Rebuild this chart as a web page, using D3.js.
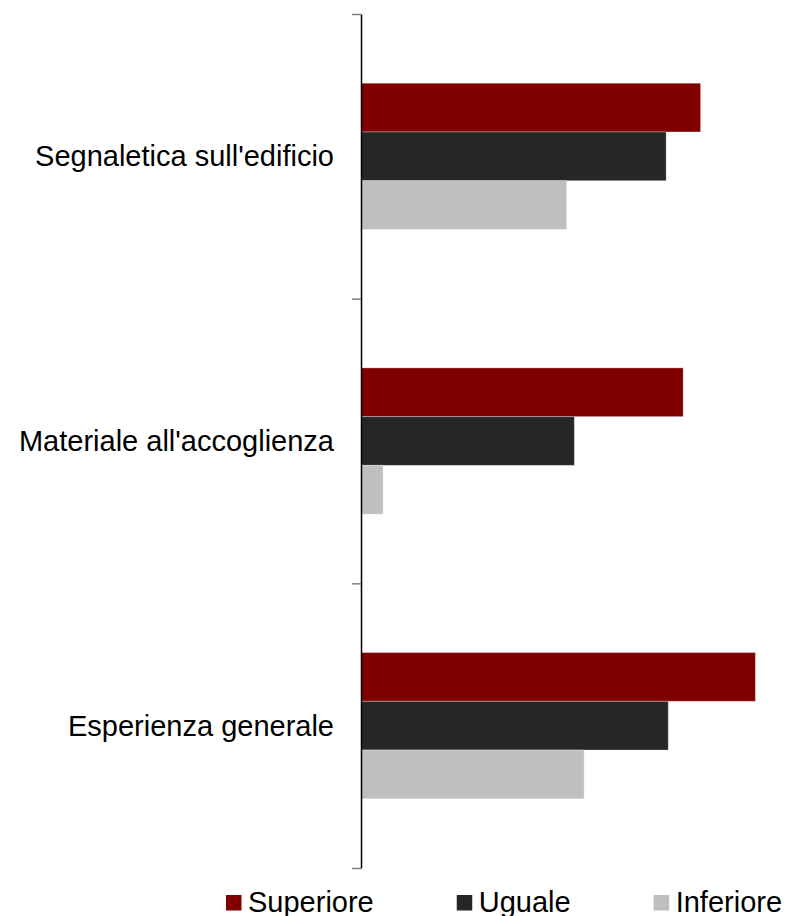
<!DOCTYPE html>
<html>
<head>
<meta charset="utf-8">
<script src="https://cdn.jsdelivr.net/npm/d3@7"></script>
<style>
  html, body { margin: 0; padding: 0; background: #ffffff; }
  svg { display: block; }
  text { font-family: "Liberation Sans", Arial, sans-serif; fill: #000; }
</style>
</head>
<body>
<svg id="chart" width="788" height="916"></svg>
<script>
// Categories, top to bottom
const categories = ["Segnaletica sull'edificio", "Materiale all'accoglienza", "Esperienza generale"];
// Series names (legend order)
const series = ["Superiore", "Uguale", "Inferiore"];
// Values per series, in category order
const superiore = [79.9, 75.8, 92.8];
const uguale    = [71.8, 50.2, 72.3];
const inferiore = [48.4, 5.2, 52.5];
const colors = ["#800000", "#262626", "#bfbfbf"];

const valuesBySeries = [superiore, uguale, inferiore];
const data = categories.map((c, i) => ({
  category: c,
  values: series.map((s, j) => ({ series: s, value: valuesBySeries[j][i], color: colors[j] }))
}));

const svg = d3.select("#chart");
const axisX = 361, plotTop = 14, plotBottom = 868;

const x = d3.scaleLinear().domain([0, 100]).range([axisX, axisX + 425]);
const y = d3.scaleBand().domain(categories).range([plotTop, plotBottom]).paddingInner(0).paddingOuter(0);
const yInner = d3.scaleBand().domain(series).range([0, y.bandwidth()]).paddingInner(0).paddingOuter(1.42);

// Bars
const groups = svg.append("g").selectAll("g").data(data).join("g")
  .attr("transform", d => `translate(0,${y(d.category)})`);
groups.selectAll("rect").data(d => d.values).join("rect")
  .attr("x", x(0))
  .attr("y", d => yInner(d.series))
  .attr("width", d => x(d.value) - x(0))
  .attr("height", yInner.bandwidth())
  .attr("fill", d => d.color)
  .attr("stroke", "rgba(255,255,255,0.3)")
  .attr("stroke-width", 1);

// Category axis: ticks at band boundaries
const yEdges = d3.scaleLinear().domain([0, categories.length]).range([plotTop, plotBottom]);
const axis = svg.append("g")
  .attr("transform", `translate(${axisX},0)`)
  .call(d3.axisLeft(yEdges).tickValues(d3.range(categories.length + 1)).tickFormat("").tickSize(9).tickSizeOuter(0));
axis.select(".domain").attr("stroke", "#000").attr("stroke-width", 1.5);
axis.selectAll(".tick line").attr("stroke", "#808080").attr("stroke-width", 1.5);

// Category labels
svg.append("g").selectAll("text").data(categories).join("text")
  .attr("x", 334)
  .attr("y", d => y(d) + y.bandwidth() / 2 + 10)
  .attr("text-anchor", "end")
  .style("font-size", "29px")
  .text(d => d);

// Legend
const legend = svg.append("g");
let lx = 226;
series.forEach((s, i) => {
  legend.append("rect")
    .attr("x", lx).attr("y", 895)
    .attr("width", 15.5).attr("height", 15.5)
    .attr("fill", colors[i]);
  const t = legend.append("text")
    .attr("x", lx + 22).attr("y", 911.5)
    .style("font-size", "29px")
    .text(s);
  lx += 22 + t.node().getComputedTextLength() + 83;
});
</script>
</body>
</html>
